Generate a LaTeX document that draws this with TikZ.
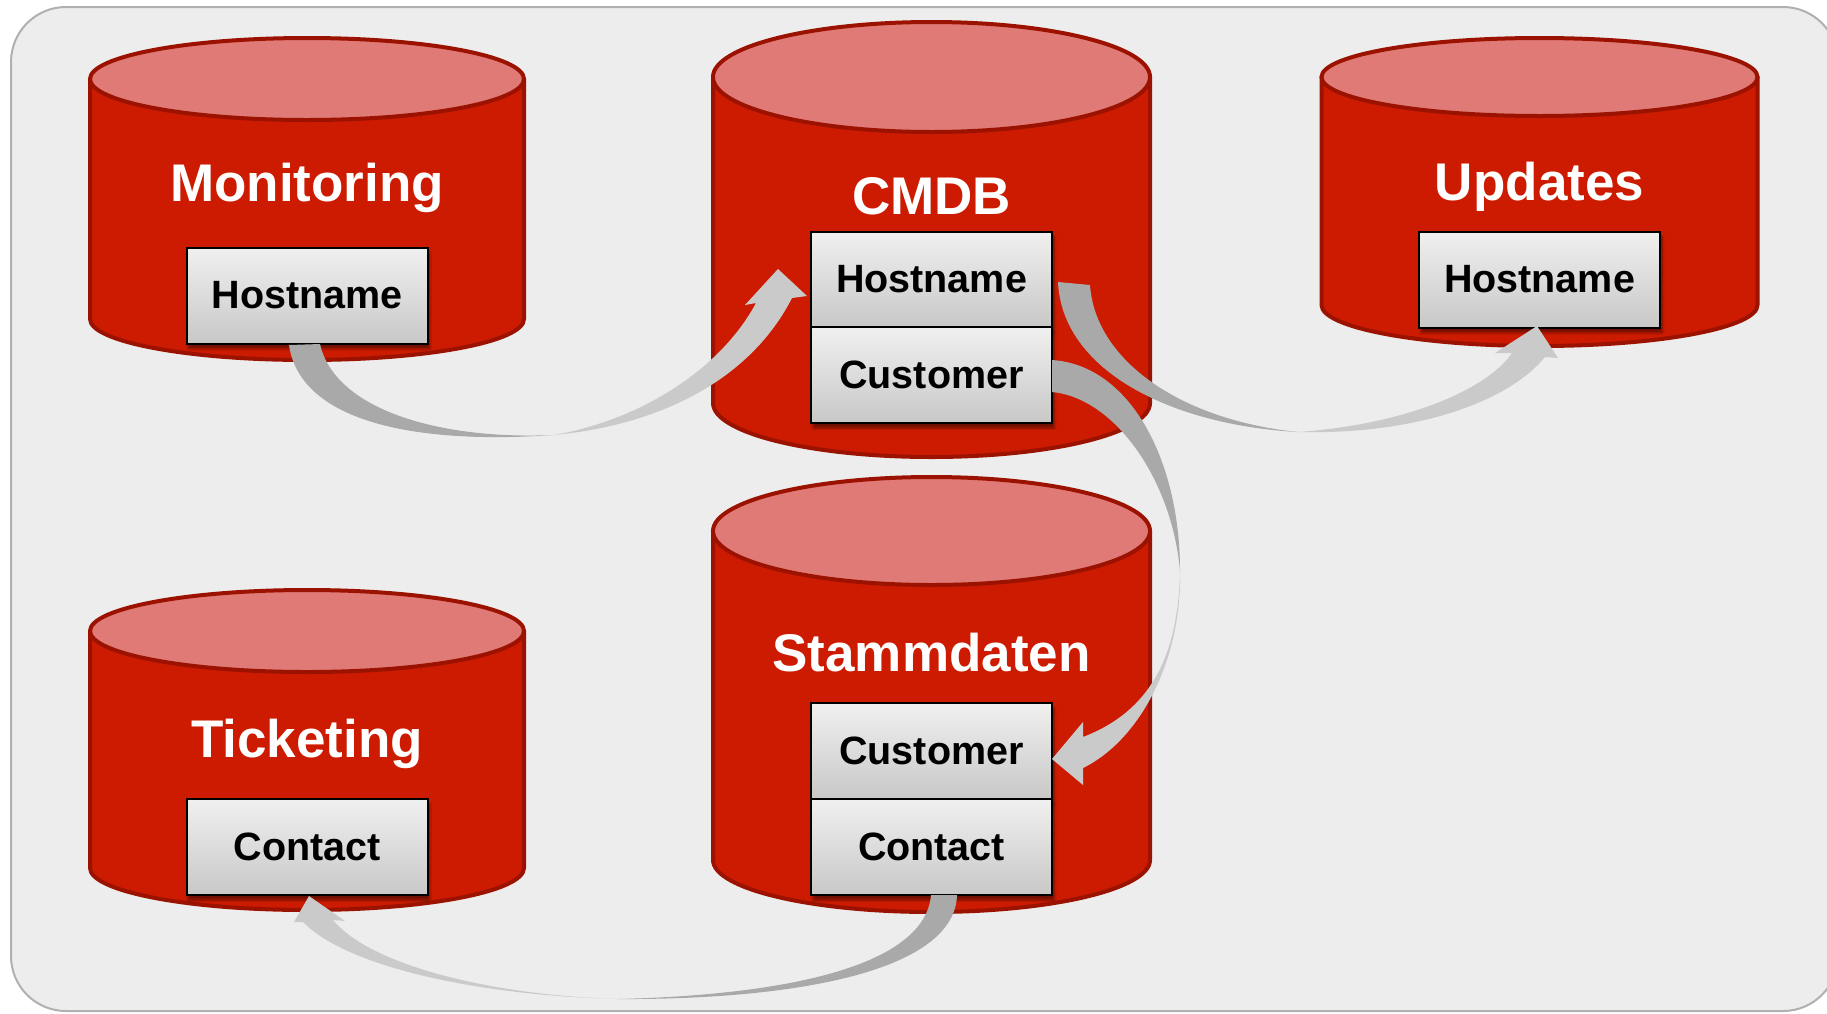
\documentclass[tikz,border=0pt]{standalone}
\usepackage{fontspec}
\setmainfont{Liberation Sans}
\usetikzlibrary{shadows.blur}
\definecolor{bgfill}{HTML}{EDEDED}
\definecolor{bgline}{HTML}{B0B0B0}
\definecolor{cylred}{HTML}{CC1B00}
\definecolor{cylline}{HTML}{9C1200}
\definecolor{cyltop}{HTML}{E07A76}
\definecolor{boxtop}{HTML}{F0F0F0}
\definecolor{boxbot}{HTML}{C8C8C8}
\definecolor{arrdark}{HTML}{A9A9A9}
\definecolor{arrlight}{HTML}{CACACA}
\tikzset{
  cylbody/.style={fill=cylred, draw=cylline, line width=4pt, line join=round},
  cyltopst/.style={fill=cyltop, draw=cylline, line width=4pt},
  dbtitle/.style={text=white, font=\fontsize{53}{60}\selectfont\bfseries, anchor=base, inner sep=0pt},
  field/.style={draw=black, line width=2pt, top color=boxtop, bottom color=boxbot,
    minimum width=241pt, minimum height=96pt, inner sep=0pt,
    font=\fontsize{39.5}{44}\selectfont\bfseries,
    blur shadow={shadow xshift=2pt, shadow yshift=-5pt, shadow blur steps=6, shadow opacity=45}},
  darkband/.style={fill=arrdark},
  lightband/.style={fill=arrlight},
}
\newcommand{\dbcyl}[6]{%
  \path[cylbody] (#1-#2,#3) -- (#1-#2,#5) arc[start angle=180,end angle=0,x radius=#2,y radius=#6] -- (#1+#2,#3) -- cycle;
  \path[cyltopst] (#1,#3) ellipse[x radius=#2, y radius=#4];
}
\begin{document}
\begin{tikzpicture}[x=1pt,y=-1pt]
\useasboundingbox (0,0) rectangle (1827,1013);
\begin{scope}
\clip (0,0) rectangle (1827,1013);
\fill[white] (0,0) rectangle (1827,1013);
\path[fill=bgfill, draw=bgline, line width=2pt, rounded corners=55pt] (11,7) rectangle (1838,1011);

% cylinders
\dbcyl{307}{217}{79}{41}{319}{41}
\dbcyl{931.5}{218.5}{77}{55}{403}{54}
\dbcyl{1539.5}{218}{77}{39}{305}{41}
\dbcyl{931.5}{218.5}{531}{54}{860}{52}
\dbcyl{307}{217}{631}{41}{868}{42}

% titles
\node[dbtitle] (tmon) at (307,201) {Monitoring};
\node[dbtitle] (tcmdb) at (931.5,214) {CMDB};
\node[dbtitle] (tupd) at (1539.5,200) {Updates};
\node[dbtitle] (tstamm) at (931.5,671) {Stammdaten};
\node[dbtitle] (ttick) at (307,757) {Ticketing};

% fields
\node[field] (monhost) at (307,295.5) {Hostname};
\node[field] (cmdbhost) at (931.5,279.5) {Hostname};
\node[field] (cmdbcust) at (931.5,375) {Customer};
\node[field] (updhost) at (1539.5,279.5) {Hostname};
\node[field] (stcust) at (931.5,751) {Customer};
\node[field] (stcont) at (931.5,847) {Contact};
\node[field] (tickcont) at (307,847) {Contact};

% arrow 1: Monitoring Hostname -> CMDB Hostname
\fill[darkband] (289,345) .. controls (300,420) and (410,445) .. (554,435)
  .. controls (440,440) and (335,410) .. (320,344) -- cycle;
\fill[lightband] (554,435) .. controls (660,425) and (750,380) .. (792,298)
  -- (807,296) -- (778,269) -- (745,305) -- (756,303)
  .. controls (720,370) and (640,420) .. (554,435) -- cycle;

% arrow 2: CMDB Hostname -> Updates Hostname
\fill[darkband] (1058,282) .. controls (1062,370) and (1170,425) .. (1298,432)
  .. controls (1180,420) and (1095,360) .. (1090,285) -- cycle;
\fill[lightband] (1298,432) .. controls (1420,435) and (1510,400) .. (1545,357)
  -- (1558,358) -- (1537,326) -- (1495,353) -- (1512,353)
  .. controls (1485,392) and (1400,425) .. (1298,432) -- cycle;

% arrow 3: CMDB Customer -> Stammdaten Customer
\fill[darkband] (1052,360) .. controls (1130,365) and (1180,460) .. (1180,571)
  .. controls (1172,480) and (1115,398) .. (1052,392) -- cycle;
\fill[lightband] (1180,571) .. controls (1182,660) and (1140,740) .. (1083,768)
  -- (1083,785) -- (1052,759) -- (1083,722) -- (1083,737)
  .. controls (1140,715) and (1178,670) .. (1180,571) -- cycle;

% arrow 4: Stammdaten Contact -> Ticketing Contact
\fill[darkband] (957,895) .. controls (955,970) and (800,1000) .. (617,999)
  .. controls (790,995) and (925,965) .. (931,895) -- cycle;
\fill[lightband] (617,999) .. controls (470,995) and (345,965) .. (303,922)
  -- (294,922) -- (309,896) -- (345,921) -- (333,920)
  .. controls (370,965) and (490,995) .. (617,999) -- cycle;
\end{scope}
\end{tikzpicture}
\end{document}
